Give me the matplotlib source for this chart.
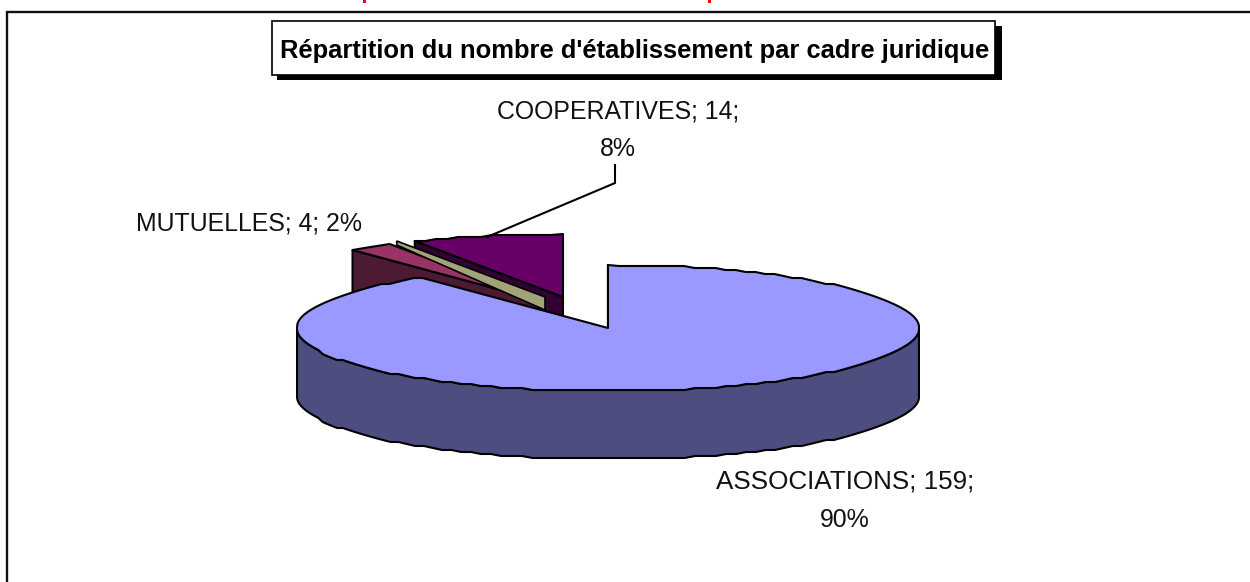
import matplotlib
matplotlib.use('Agg')

import numpy as np
import matplotlib.pyplot as plt
from matplotlib.patches import Polygon, Rectangle

categories = ['ASSOCIATIONS', 'MUTUELLES', 'COOPERATIVES']
values = [159, 4, 14]
percents = ['90%', '2%', '8%']
title = "Répartition du nombre d'établissement par cadre juridique"

top_colors = ['#9999FF', '#993366', '#660066']
wall_colors = ['#4D4D80', '#4D1A33', '#330033']
apexes = [(608, 328), (538, 300), (563, 297)]

rx, ry, depth = 311, 63, 68
edge_kw = dict(edgecolor='black', linewidth=1.5, joinstyle='round')

plt.rcParams['font.family'] = ['Liberation Sans', 'DejaVu Sans']

fig = plt.figure(figsize=(12.5, 5.82), dpi=100)
ax = fig.add_axes([0, 0, 1, 1])
ax.set_xlim(0, 1250)
ax.set_ylim(582, 0)
ax.axis('off')

# frame of the sheet: only top and left are inside the picture
ax.plot([7, 7, 1250], [582, 11.5, 11.5], color='#111111', linewidth=1.7, solid_joinstyle='miter')

# bottoms of the cut-off red heading
ax.add_patch(Rectangle((363, 0), 3, 3, facecolor='red', edgecolor='none'))
ax.add_patch(Rectangle((708, 0), 3, 3, facecolor='red', edgecolor='none'))


def rim(apex, a0, a1):
    n = max(3, int(abs(a1 - a0) / 2))
    t = np.radians(np.linspace(a0, a1, n))
    # rim is snapped to a small grid to get the bumpy edge of the source
    dy = np.clip(np.round(ry * np.sin(t) / 2) * 2, -ry, ry)
    return np.column_stack([apex[0] + rx * np.cos(t), apex[1] - dy])


def draw_slice(apex, a0, a1, top, wall, z):
    pts = rim(apex, a0, a1)
    down = np.array([0, depth])
    # left cut face, then the curved outer wall, then the top
    face = [apex, pts[0], pts[0] + down, np.array(apex) + down]
    ax.add_patch(Polygon(face, closed=True, facecolor=wall, zorder=z, **edge_kw))
    front = pts[pts[:, 1] >= apex[1]]
    if len(front) > 1:
        side = np.vstack([front, front[::-1] + down])
        ax.add_patch(Polygon(side, closed=True, facecolor=wall, zorder=z + 0.1, **edge_kw))
    ax.add_patch(Polygon(np.vstack([[apex], pts]), closed=True, facecolor=top, zorder=z + 0.2, **edge_kw))


# angles run clockwise from 12 o'clock, as in the source chart
shares = np.array(values) / sum(values) * 360
ends = np.cumsum(shares)
starts = ends - shares

draw_slice(apexes[2], 90 - starts[2], 90 - ends[2], top_colors[2], wall_colors[2], 2)
draw_slice(apexes[1], 90 - starts[1], 90 - ends[1], top_colors[1], wall_colors[1], 3)

# thin tan strip lying along the cut of the middle slice
strip_start = rim((545, 297), 90 - ends[1], 90 - ends[1])[0]
ax.add_patch(Polygon([(545, 297), strip_start, strip_start + [0, 4], (545, 310)], closed=True,
                     facecolor='#A3A37A', edgecolor='black', linewidth=1.2, zorder=5))

draw_slice(apexes[0], 90 - starts[0], 90 - ends[0], top_colors[0], wall_colors[0], 6)

ax.plot([487, 615, 615], [237, 183, 165], color='black', linewidth=1.5, zorder=5)

label_size = 17.9
ax.text(845, 481, f'{categories[0]}; {values[0]};', ha='center', va='center', fontsize=18.7, color='#111111')
ax.text(845, 520, percents[0], ha='center', va='center', fontsize=label_size, color='#111111')
ax.text(249, 223, f'{categories[1]}; {values[1]}; {percents[1]}', ha='center', va='center', fontsize=label_size, color='#111111')
ax.text(618, 112, f'{categories[2]}; {values[2]};', ha='center', va='center', fontsize=label_size, color='#111111')
ax.text(618, 149, percents[2], ha='center', va='center', fontsize=label_size, color='#111111')

# title box with its drop shadow
ax.add_patch(Rectangle((277, 26), 725, 54, facecolor='black', edgecolor='none', zorder=7))
ax.add_patch(Rectangle((272, 21), 723, 54, facecolor='white', edgecolor='black', linewidth=1.2, zorder=8))
ax.text(634.5, 51, title, ha='center', va='center', fontsize=18.4, fontweight='bold', color='black', zorder=9)

fig.savefig('out.png', dpi=100)
